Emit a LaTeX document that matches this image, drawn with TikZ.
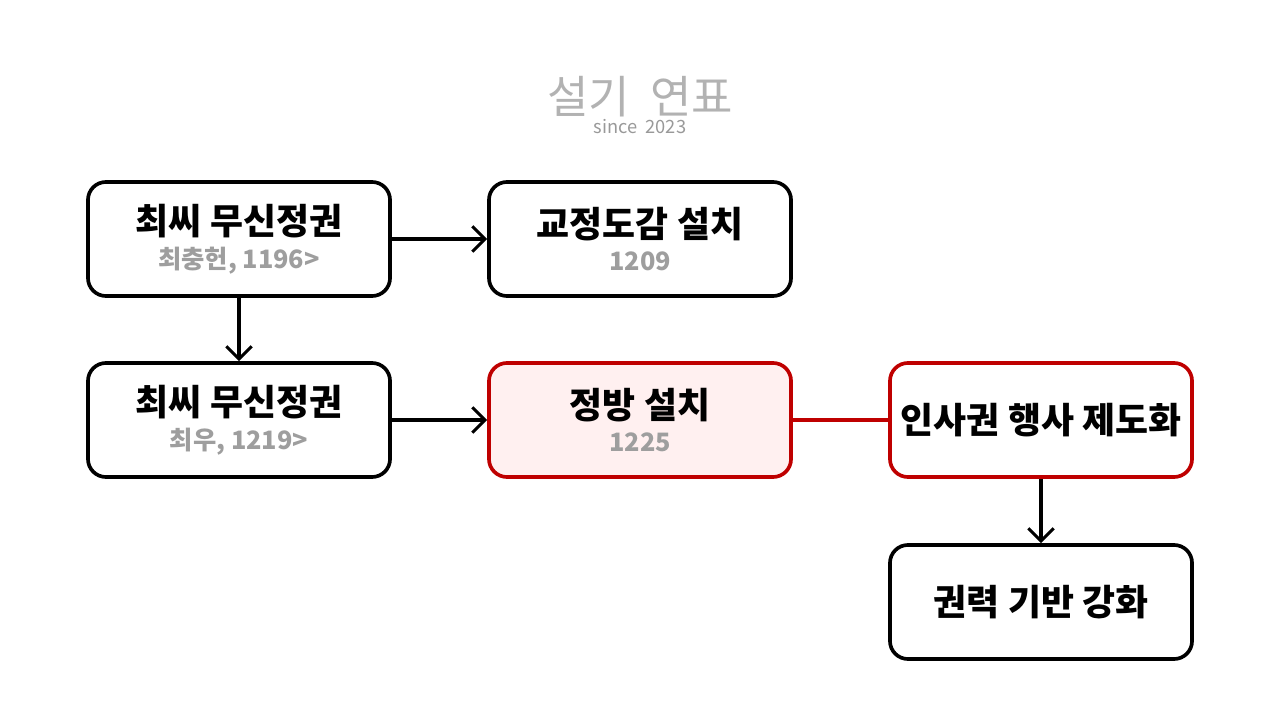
\documentclass[tikz,border=0pt]{standalone}
\usepackage{fontspec}
\newfontfamily\kr{Noto Sans CJK KR}
\usetikzlibrary{arrows.meta,positioning}
\tikzset{
  box/.style={draw=black, line width=2.6pt, rounded corners=0.45cm, fill=white,
    minimum width=7.55cm, minimum height=2.85cm, align=center,
    font=\kr\bfseries\fontsize{25.5}{27}\selectfont},
  redbox/.style={box, draw=red!75!black},
  link/.style={line width=2.2pt, -{Straight Barb[length=9pt,width=18pt,line width=2.2pt]}},
}
\newcommand{\sub}[1]{\\[-3pt]{\fontsize{18}{20}\selectfont\color{black!38}#1}}
\begin{document}
\begin{tikzpicture}[x=0.025cm, y=-0.025cm]
    \useasboundingbox (0,0) rectangle (1280,720);
    % title
    \node[font=\kr\fontsize{32}{34}\selectfont, text=black!30] (title) at (640,97) {설기\ \ 연표};
    \node[font=\kr\fontsize{13}{14}\selectfont, text=black!40] (since) at (640,127) {since\ \ 2023};
    % boxes
    \node[box] (choi1) at (239,239) {최씨 무신정권\sub{최충헌, 1196>}};
    \node[box] (gyojeong) at (640,239) {교정도감 설치\sub{1209}};
    \node[box] (choi2) at (239,420) {최씨 무신정권\sub{최우, 1219>}};
    \node[redbox, fill=red!6] (jeongbang) at (640,420) {정방 설치\sub{1225}};
    \node[redbox] (insa) at (1041,420) {인사권 행사 제도화};
    \node[box] (gwonryeok) at (1041,602) {권력 기반 강화};
    % links
    \draw[link] (choi1) -- (gyojeong);
    \draw[link] (choi1) -- (choi2);
    \draw[link] (choi2) -- (jeongbang);
    \draw[line width=2.2pt, red!75!black] (jeongbang) -- (insa);
    \draw[link] (insa) -- (gwonryeok);
\end{tikzpicture}
\end{document}
